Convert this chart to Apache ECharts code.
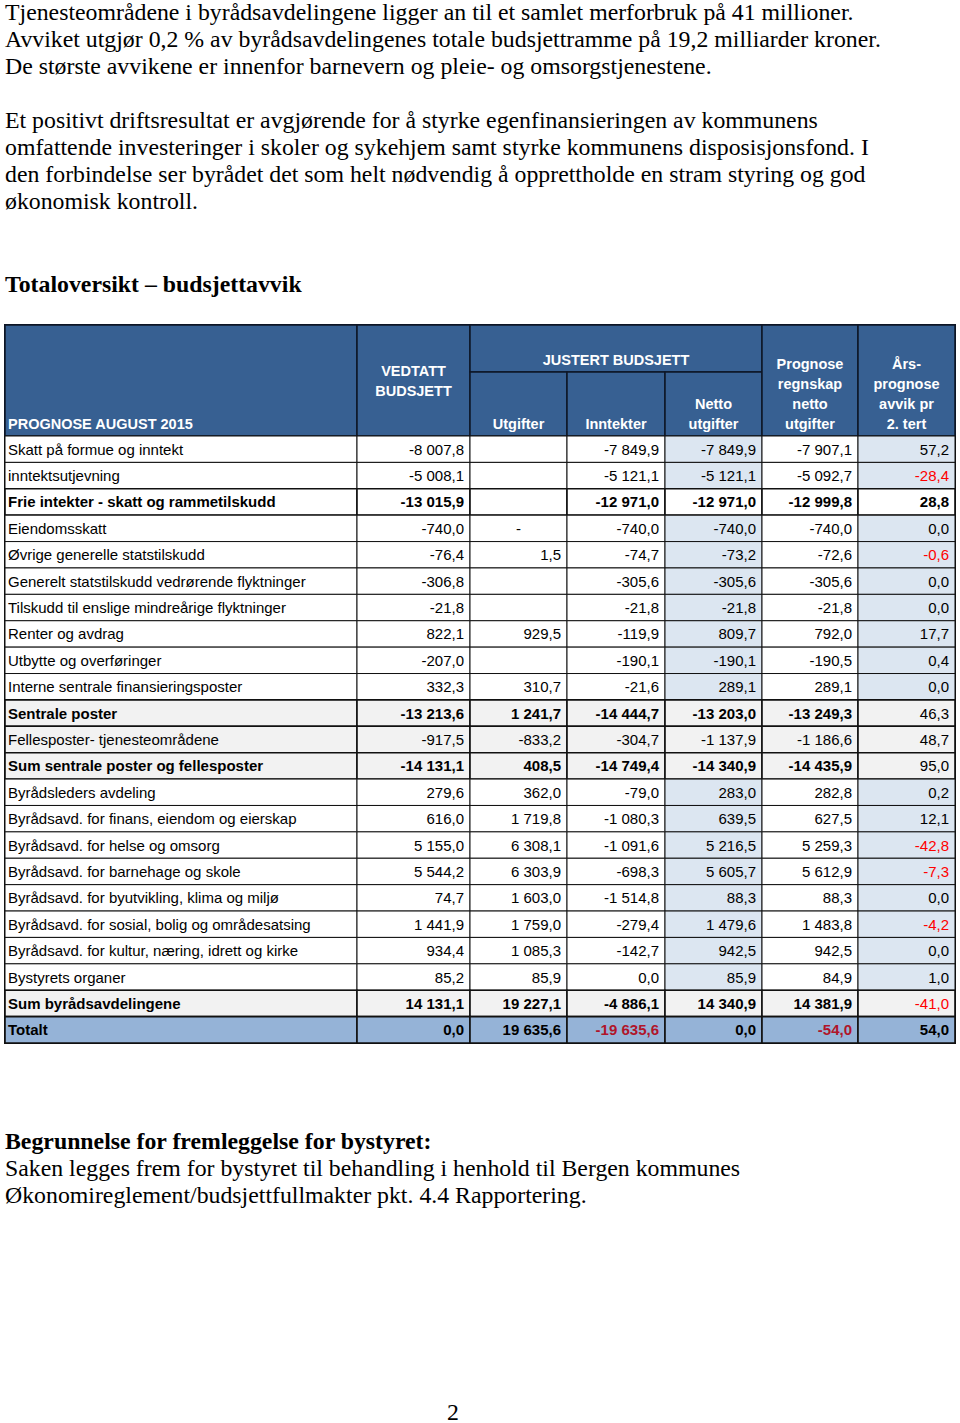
<!DOCTYPE html>
<html>
<head>
<meta charset="utf-8">
<script src="https://cdn.jsdelivr.net/npm/echarts@6/dist/echarts.min.js"></script>
<style>
  html, body { margin: 0; padding: 0; background: #fff; }
  #chart { width: 960px; height: 1423px; }
</style>
</head>
<body>
<div id="chart"></div>
<script>
// rader i tabellen
const rowLabels = [
  'Skatt på formue og inntekt',
  'inntektsutjevning',
  'Frie intekter - skatt og rammetilskudd',
  'Eiendomsskatt',
  'Øvrige generelle statstilskudd',
  'Generelt statstilskudd vedrørende flyktninger',
  'Tilskudd til enslige mindreårige flyktninger',
  'Renter og avdrag',
  'Utbytte og overføringer',
  'Interne sentrale finansieringsposter',
  'Sentrale poster',
  'Fellesposter- tjenesteområdene',
  'Sum sentrale poster og fellesposter',
  'Byrådsleders avdeling',
  'Byrådsavd. for finans, eiendom og eierskap',
  'Byrådsavd. for helse og omsorg',
  'Byrådsavd. for barnehage og skole',
  'Byrådsavd. for byutvikling, klima og miljø',
  'Byrådsavd. for sosial, bolig og områdesatsing',
  'Byrådsavd. for kultur, næring, idrett og kirke',
  'Bystyrets organer',
  'Sum byrådsavdelingene',
  'Totalt'
];

// kolonner (mill. kr)
const vedtatt = [-8007.8, -5008.1, -13015.9, -740.0, -76.4, -306.8, -21.8, 822.1, -207.0, 332.3,
  -13213.6, -917.5, -14131.1, 279.6, 616.0, 5155.0, 5544.2, 74.7, 1441.9, 934.4, 85.2, 14131.1, 0.0];
const utgifter = [null, null, null, '-', 1.5, null, null, 929.5, null, 310.7,
  1241.7, -833.2, 408.5, 362.0, 1719.8, 6308.1, 6303.9, 1603.0, 1759.0, 1085.3, 85.9, 19227.1, 19635.6];
const inntekter = [-7849.9, -5121.1, -12971.0, -740.0, -74.7, -305.6, -21.8, -119.9, -190.1, -21.6,
  -14444.7, -304.7, -14749.4, -79.0, -1080.3, -1091.6, -698.3, -1514.8, -279.4, -142.7, 0.0, -4886.1, -19635.6];
const netto = [-7849.9, -5121.1, -12971.0, -740.0, -73.2, -305.6, -21.8, 809.7, -190.1, 289.1,
  -13203.0, -1137.9, -14340.9, 283.0, 639.5, 5216.5, 5605.7, 88.3, 1479.6, 942.5, 85.9, 14340.9, 0.0];
const prognose = [-7907.1, -5092.7, -12999.8, -740.0, -72.6, -305.6, -21.8, 792.0, -190.5, 289.1,
  -13249.3, -1186.6, -14435.9, 282.8, 627.5, 5259.3, 5612.9, 88.3, 1483.8, 942.5, 84.9, 14381.9, -54.0];
const avvik = [57.2, -28.4, 28.8, 0.0, -0.6, 0.0, 0.0, 17.7, 0.4, 0.0,
  46.3, 48.7, 95.0, 0.2, 12.1, -42.8, -7.3, 0.0, -4.2, 0.0, 1.0, -41.0, 54.0];

const columns = [vedtatt, utgifter, inntekter, netto, prognose, avvik];

// radtyper
const boldRows = [2, 10, 12, 21, 22];
const grayRows = [10, 11, 12, 21];
const totalRow = 22;

// layout
const colEdges = [0, 352, 465, 562, 660, 757, 853, 950];
const headerCells = [
  { c0: 0, c1: 1, y0: 0, y1: 111, text: 'PROGNOSE AUGUST 2015', align: 'left', valign: 'bottom' },
  { c0: 1, c1: 2, y0: 0, y1: 111, text: 'VEDTATT\nBUDSJETT', align: 'center', valign: 'middle' },
  { c0: 2, c1: 5, y0: 0, y1: 47, text: 'JUSTERT BUDSJETT', align: 'center', valign: 'bottom' },
  { c0: 2, c1: 3, y0: 47, y1: 111, text: 'Utgifter', align: 'center', valign: 'bottom' },
  { c0: 3, c1: 4, y0: 47, y1: 111, text: 'Inntekter', align: 'center', valign: 'bottom' },
  { c0: 4, c1: 5, y0: 47, y1: 111, text: 'Netto\nutgifter', align: 'center', valign: 'bottom' },
  { c0: 5, c1: 6, y0: 0, y1: 111, text: 'Prognose\nregnskap\nnetto\nutgifter', align: 'center', valign: 'bottom' },
  { c0: 6, c1: 7, y0: 0, y1: 111, text: 'Års-\nprognose\navvik pr\n2. tert', align: 'center', valign: 'bottom' }
];

const SANS = '"Liberation Sans", Arial, sans-serif';
const SERIF = '"Liberation Serif", "Times New Roman", serif';
const SERIF_SIZE = 23.8;

function fmt(v) {
  if (v === null || v === undefined) return '';
  if (typeof v === 'string') return v;
  const neg = v < 0;
  const parts = Math.abs(v).toFixed(1).split('.');
  const int = parts[0].replace(/\B(?=(\d{3})+(?!\d))/g, ' ');
  return (neg ? '-' : '') + int + ',' + parts[1];
}

const bodyData = [];
rowLabels.forEach(function (lbl, r) {
  for (let c = 0; c < 7; c++) bodyData.push([c, r]);
});

function cellFill(c, r) {
  if (r === totalRow) return '#95b3d7';
  if (grayRows.indexOf(r) >= 0) return '#f2f2f2';
  if (r === 2) return '#ffffff';
  if (c === 4 || c === 6) return '#dce6f1';
  return '#ffffff';
}

function renderBody(params, api) {
  const c = api.value(0), r = api.value(1);
  const left = api.coord([colEdges[c], r]);
  const right = api.coord([colEdges[c + 1], r]);
  const h = api.size([0, 1])[1];
  const yc = left[1];
  const isBold = boldRows.indexOf(r) >= 0 && !(c === 6 && r !== 2 && r !== totalRow);
  const thick = boldRows.indexOf(r) >= 0 || grayRows.indexOf(r) >= 0;
  let text, color = '#000', align, x;
  if (c === 0) {
    text = rowLabels[r];
    align = 'left';
    x = left[0] + 3;
  } else {
    const v = columns[c - 1][r];
    text = fmt(v);
    align = 'right';
    x = right[0] - 6;
    if (typeof v === 'number' && v < 0 && r === totalRow) color = '#b0152a';
    else if (typeof v === 'number' && v < 0 && c === 6) color = '#ff0000';
    if (v === '-') { align = 'center'; x = (left[0] + right[0]) / 2; }
  }
  return {
    type: 'group',
    children: [
      {
        type: 'rect',
        shape: { x: left[0], y: yc - h / 2, width: right[0] - left[0], height: h },
        style: { fill: cellFill(c, r), stroke: '#111', lineWidth: thick ? 1.6 : 1 }
      },
      {
        type: 'text',
        style: {
          text: text, x: x, y: yc, align: align, verticalAlign: 'middle',
          fill: color, fontFamily: SANS, fontSize: 15, fontWeight: isBold ? 'bold' : 'normal'
        }
      }
    ]
  };
}

function renderHeader(params, api) {
  const cell = headerCells[params.dataIndex];
  const p0 = api.coord([colEdges[cell.c0], cell.y0]);
  const p1 = api.coord([colEdges[cell.c1], cell.y1]);
  const tx = cell.align === 'left' ? p0[0] + 3 : (p0[0] + p1[0]) / 2;
  const ty = cell.valign === 'middle' ? (p0[1] + p1[1]) / 2 : p1[1] - 2;
  return {
    type: 'group',
    children: [
      {
        type: 'rect',
        shape: { x: p0[0], y: p0[1], width: p1[0] - p0[0], height: p1[1] - p0[1] },
        style: { fill: '#376092', stroke: '#0e1626', lineWidth: 1.5 }
      },
      {
        type: 'text',
        style: {
          text: cell.text, x: tx, y: ty, align: cell.align, verticalAlign: cell.valign,
          fill: '#ffffff', fontFamily: SANS, fontSize: 14.5, fontWeight: 'bold', lineHeight: 20
        }
      }
    ]
  };
}

function para(text, top, bold, lh) {
  return {
    text: text, left: 5, top: top, padding: 0,
    textStyle: { fontFamily: SERIF, fontSize: SERIF_SIZE, fontWeight: bold ? 'bold' : 'normal', color: '#000', lineHeight: lh }
  };
}

const chart = echarts.init(document.getElementById('chart'), null, { renderer: 'svg' });
chart.setOption({
  backgroundColor: '#ffffff',
  animation: false,
  title: [
    para('Tjenesteområdene i byrådsavdelingene ligger an til et samlet merforbruk på 41 millioner.\n' +
      'Avviket utgjør 0,2 % av byrådsavdelingenes totale budsjettramme på 19,2 milliarder kroner.\n' +
      'De største avvikene er innenfor barnevern og pleie- og omsorgstjenestene.', -2, false, 27),
    para('Et positivt driftsresultat er avgjørende for å styrke egenfinansieringen av kommunens\n' +
      'omfattende investeringer i skoler og sykehjem samt styrke kommunens disposisjonsfond. I\n' +
      'den forbindelse ser byrådet det som helt nødvendig å opprettholde en stram styring og god\n' +
      'økonomisk kontroll.', 106, false, 27.2),
    para('Totaloversikt – budsjettavvik', 270, true, 27),
    para('Begrunnelse for fremleggelse for bystyret:', 1127, true, 27),
    para('Saken legges frem for bystyret til behandling i henhold til Bergen kommunes\n' +
      'Økonomireglement/budsjettfullmakter pkt. 4.4 Rapportering.', 1154, false, 27),
    {
      text: '2', left: 447, top: 1398, padding: 0,
      textStyle: { fontFamily: SERIF, fontSize: SERIF_SIZE, fontWeight: 'normal', color: '#000', lineHeight: 27 }
    }
  ],
  grid: [
    { left: 5, width: 950, top: 325, height: 111, show: true, borderColor: '#0e1626', borderWidth: 2, backgroundColor: 'transparent' },
    { left: 5, width: 950, top: 436, height: 607, show: true, borderColor: '#111', borderWidth: 2, backgroundColor: 'transparent' }
  ],
  xAxis: [
    { type: 'value', gridIndex: 0, min: 0, max: 950, show: false },
    { type: 'value', gridIndex: 1, min: 0, max: 950, show: false }
  ],
  yAxis: [
    { type: 'value', gridIndex: 0, min: 0, max: 111, inverse: true, show: false },
    { type: 'category', gridIndex: 1, data: rowLabels, inverse: true, show: false }
  ],
  series: [
    {
      type: 'custom', xAxisIndex: 0, yAxisIndex: 0, clip: false,
      renderItem: renderHeader,
      data: headerCells.map(function (h, i) { return [i, h.y0]; }),
      z: 2
    },
    {
      type: 'custom', xAxisIndex: 1, yAxisIndex: 1, clip: false,
      renderItem: renderBody,
      data: bodyData,
      z: 2
    }
  ]
});
</script>
</body>
</html>
